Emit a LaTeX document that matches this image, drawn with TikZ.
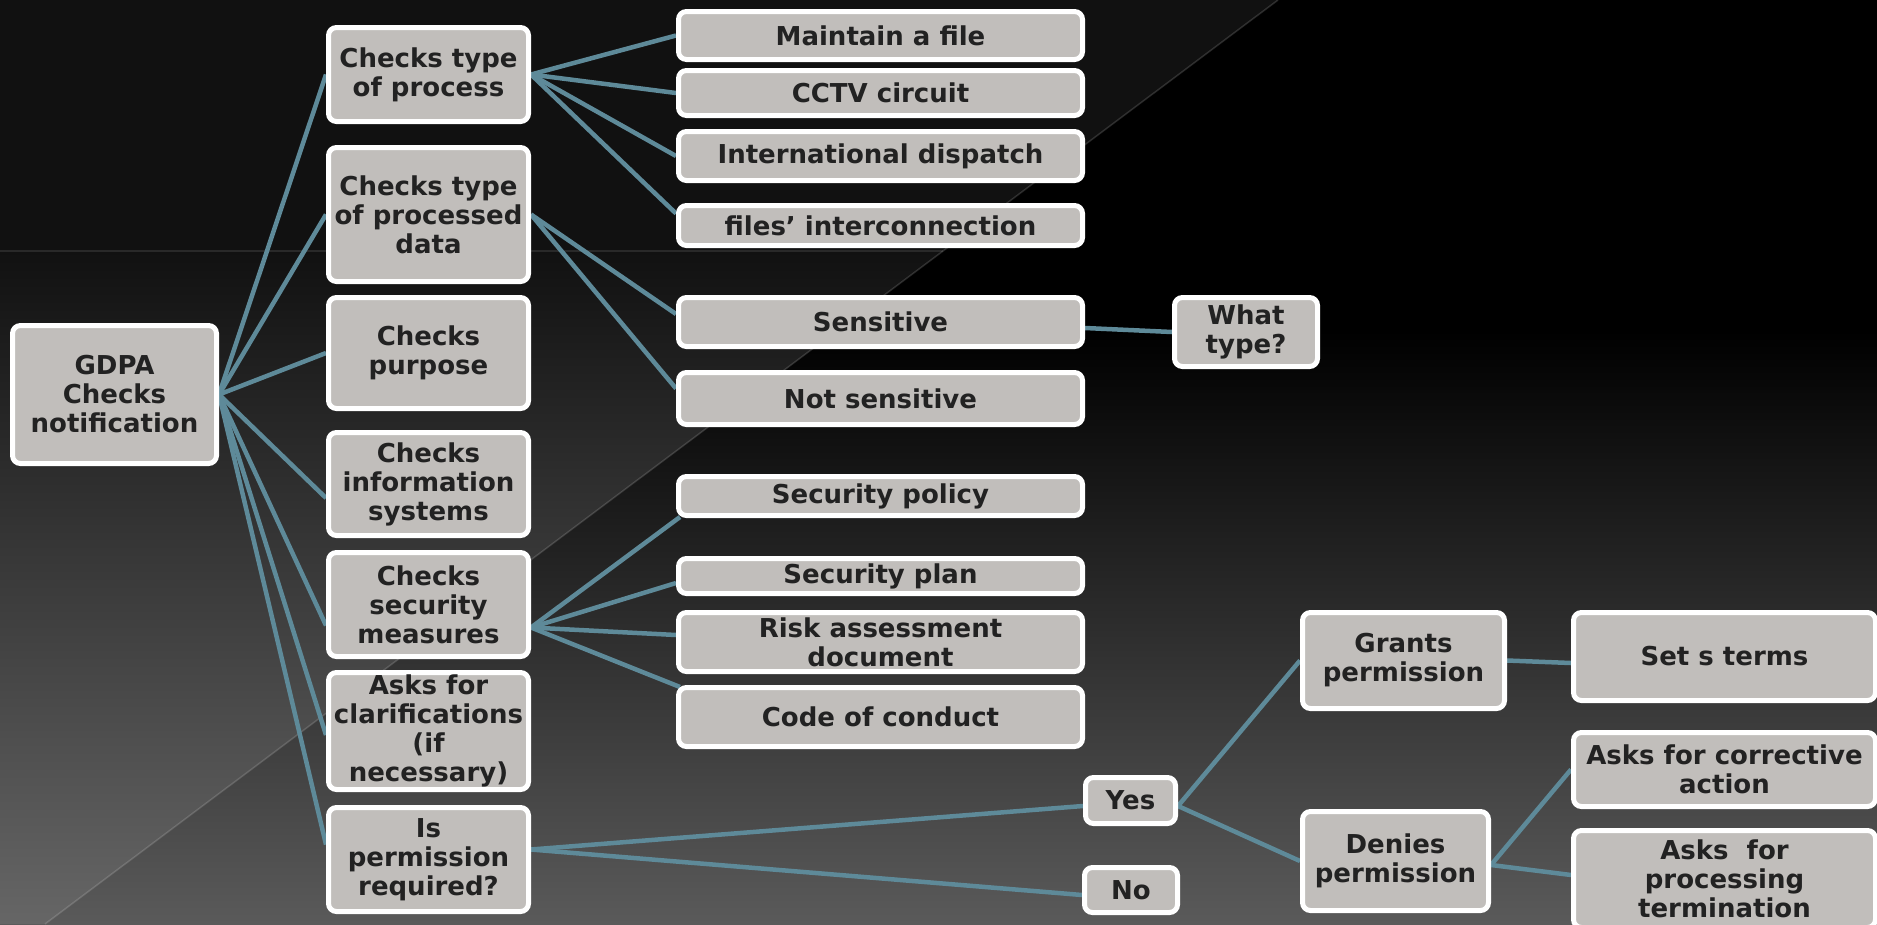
\documentclass[tikz,border=0pt]{standalone}
\usepackage{fontspec}
\setmainfont{DejaVu Sans}
\usetikzlibrary{backgrounds}
\definecolor{boxc}{RGB}{193,190,187}
\definecolor{linkc}{RGB}{94,138,153}
\definecolor{textc}{RGB}{34,34,34}
\definecolor{bgleft}{RGB}{17,17,17}
\definecolor{bgleftmid}{RGB}{50,50,50}
\definecolor{bgleftbot}{RGB}{102,102,102}
\definecolor{bgrightbot}{RGB}{90,90,90}
\pgfdeclarelayer{back}
\pgfdeclarelayer{wires}
\pgfsetlayers{back,wires,main}
\begin{document}
\begin{tikzpicture}[x=1pt,y=-1pt,
  box/.style={draw=white, line width=5pt, fill=boxc, rounded corners=8pt,
    inner sep=0pt, align=center, text=textc,
    font=\bfseries\fontsize{26}{29}\selectfont},
  % taller first line so stacked labels sit centred like single lines
  multi/.style={execute at begin node={\rule{0pt}{26pt}}},
  sz/.style 2 args={minimum width=#1pt, minimum height=#2pt},
  link/.style={draw=linkc, line width=4.5pt}]
\useasboundingbox (0,0) rectangle (1877,924);

% ---------- background ----------
\begin{pgfonlayer}{back}
  \fill[black] (0,0) rectangle (1877,924);
  \shade[top color=black, bottom color=bgrightbot] (0,330) rectangle (1877,924);
  \begin{scope}
    \clip (0,0) -- (1278,0) -- (45,924) -- (0,924) -- cycle;
    \fill[bgleft] (0,0) rectangle (1300,252);
    \shade[top color=bgleft, middle color=bgleftmid, bottom color=bgleftbot]
      (0,251) rectangle (1300,924);
  \end{scope}
  \draw[white, opacity=0.1, line width=1.5pt] (0,251) -- (943,251);
  \draw[white, opacity=0.15, line width=1.5pt] (1278,0) -- (45,924);
\end{pgfonlayer}

% ---------- boxes ----------
\node[box, multi, sz={204}{138}] (gdpa) at (114.5,394.5) {GDPA\\Checks\\notification};

\node[box, multi, sz={200}{94}]  (proc) at (428.5,74.5)  {Checks type\\of process};
\node[box, multi, sz={200}{134}] (data) at (428.5,214.5) {Checks type\\of processed\\data};
\node[box, multi, sz={200}{111}] (purp) at (428.5,353)   {Checks\\purpose};
\node[box, multi, sz={200}{103}] (info) at (428.5,484)   {Checks\\information\\systems};
\node[box, multi, sz={200}{104}] (secm) at (428.5,604.5) {Checks\\security\\measures};
\node[box, multi, sz={200}{117}] (clar) at (428.5,731)   {Asks for\\clarifications\\(if\\necessary)};
\node[box, multi, sz={200}{104}] (perm) at (428.5,859.5) {Is\\permission\\required?};

\node[box, sz={404}{48}] (maint) at (880.5,35.5)  {Maintain a file};
\node[box, sz={404}{45}] (cctv)  at (880.5,93)    {CCTV circuit};
\node[box, sz={404}{49}] (intl)  at (880.5,156)   {International dispatch};
\node[box, sz={404}{40}] (files) at (880.5,225.5) {files’ interconnection};
\node[box, sz={404}{49}] (sens)  at (880.5,322)   {Sensitive};
\node[box, sz={404}{52}] (nsens) at (880.5,398.5) {Not sensitive};
\node[box, sz={404}{39}] (spol)  at (880.5,496)   {Security policy};
\node[box, sz={404}{35}] (splan) at (880.5,576)   {Security plan};
\node[box, multi, sz={404}{59}] (risk)  at (880.5,642)   {Risk assessment\\document};
\node[box, sz={404}{59}] (code)  at (880.5,717)   {Code of conduct};

\node[box, multi, sz={143}{69}] (wtype) at (1246,332) {What\\type?};

\node[box, sz={90}{46}] (yes) at (1130.5,800.5) {Yes};
\node[box, sz={93}{45}] (no)  at (1131,890)     {No};

\node[box, multi, sz={202}{96}] (grant) at (1403.5,660.5) {Grants\\permission};
\node[box, multi, sz={186}{99}] (deny)  at (1395.5,861)   {Denies\\permission};

\node[box, sz={302}{88}] (terms) at (1724.5,656.5) {Set s terms};
\node[box, multi, sz={302}{74}] (corr)  at (1724.5,769.5) {Asks for corrective\\action};
\node[box, multi, sz={302}{97}] (term)  at (1724.5,879)   {Asks\ \ for\\processing\\termination};

% ---------- connectors ----------
\begin{pgfonlayer}{wires}
  \draw[link] (gdpa.east) -- (proc.west);
  \draw[link] (gdpa.east) -- (data.west);
  \draw[link] (gdpa.east) -- (purp.west);
  \draw[link] (gdpa.east) -- ([yshift=-14pt]info.west);
  \draw[link] (gdpa.east) -- ([yshift=-21pt]secm.west);
  \draw[link] (gdpa.east) -- ([yshift=-4pt]clar.west);
  \draw[link] (gdpa.east) -- ([yshift=15pt]perm.west);

  \draw[link] (proc.east) -- (maint.west);
  \draw[link] (proc.east) -- (cctv.west);
  \draw[link] (proc.east) -- (intl.west);
  \draw[link] (proc.east) -- ([yshift=12pt]files.west);

  \draw[link] (data.east) -- ([yshift=8pt]sens.west);
  \draw[link] (data.east) -- ([yshift=10pt]nsens.west);

  \draw[link] ([yshift=-6pt]sens.east) -- (wtype.west);

  \draw[link] ([yshift=-23pt]secm.east) -- ([xshift=4pt,yshift=-21pt]spol.west);
  \draw[link] ([yshift=-23pt]secm.east) -- ([yshift=-7pt]splan.west);
  \draw[link] ([yshift=-23pt]secm.east) -- ([yshift=7pt]risk.west);
  \draw[link] ([yshift=-23pt]secm.east) -- ([xshift=4pt,yshift=30pt]code.west);

  \draw[link] ([yshift=10pt]perm.east) -- ([yshift=-5.5pt]yes.west);
  \draw[link] ([yshift=10pt]perm.east) -- ([yshift=-5pt]no.west);

  \draw[link] ([yshift=-5.5pt]yes.east) -- (grant.west);
  \draw[link] ([yshift=-5.5pt]yes.east) -- (deny.west);

  \draw[link] (grant.east) -- ([yshift=-6.5pt]terms.west);
  \draw[link] ([yshift=-4pt]deny.east) -- (corr.west);
  \draw[link] ([yshift=-4pt]deny.east) -- ([yshift=4pt]term.west);
\end{pgfonlayer}
\end{tikzpicture}
\end{document}
